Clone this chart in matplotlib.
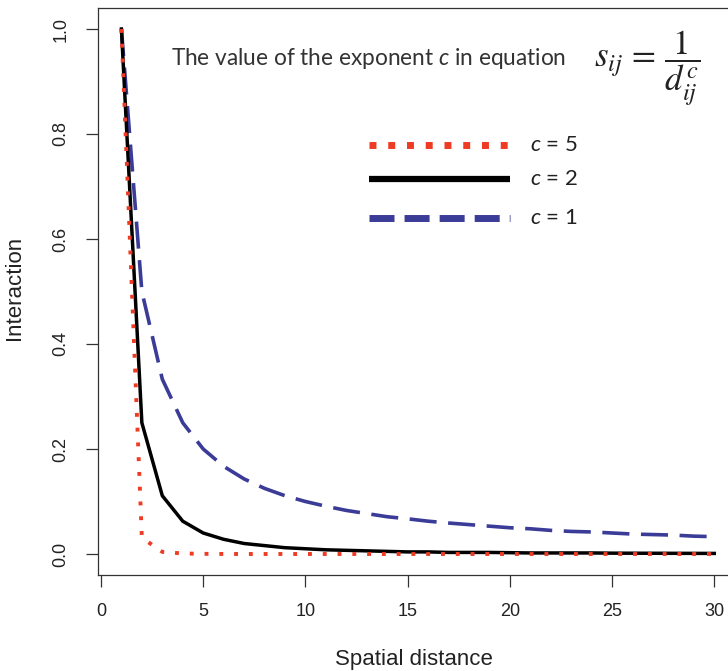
import matplotlib
matplotlib.use("Agg")
import matplotlib.pyplot as plt
from matplotlib.lines import Line2D

plt.rcParams["mathtext.fontset"] = "custom"
plt.rcParams["mathtext.it"] = "Lato:italic"
plt.rcParams["mathtext.rm"] = "Lato"

# ---- data ----
distance = list(range(1, 31))
interaction_c1 = [1.0, 0.5, 0.333, 0.25, 0.2, 0.167, 0.143, 0.125, 0.111, 0.1,
                  0.091, 0.083, 0.077, 0.071, 0.067, 0.0625, 0.059, 0.056, 0.053, 0.05,
                  0.048, 0.045, 0.043, 0.042, 0.04, 0.038, 0.037, 0.036, 0.034, 0.033]
interaction_c2 = [1.0, 0.25, 0.111, 0.0625, 0.04, 0.028, 0.02, 0.016, 0.012, 0.01,
                  0.008, 0.007, 0.006, 0.005, 0.004, 0.004, 0.003, 0.003, 0.003, 0.0025,
                  0.002, 0.002, 0.002, 0.002, 0.0016, 0.0015, 0.0014, 0.0013, 0.0012, 0.0011]
interaction_c5 = [1.0, 0.031, 0.004, 0.001, 0.0003, 0.0001, 0.0, 0.0, 0.0, 0.0,
                  0.0, 0.0, 0.0, 0.0, 0.0, 0.0, 0.0, 0.0, 0.0, 0.0,
                  0.0, 0.0, 0.0, 0.0, 0.0, 0.0, 0.0, 0.0, 0.0, 0.0]
x_ticks = [0, 5, 10, 15, 20, 25, 30]
y_ticks = [0.0, 0.2, 0.4, 0.6, 0.8, 1.0]
y_tick_labels = ["0.0", "0.2", "0.4", "0.6", "0.8", "1.0"]
legend_labels = ["$c$ = 5", "$c$ = 2", "$c$ = 1"]

RED = "#ef3b24"
BLUE = "#3b3b98"
BLACK = "#000000"

W, H = 728, 671
fig = plt.figure(figsize=(W / 100, H / 100), dpi=100)

def fx(px):
    return px / W

def fy(py):
    return 1 - py / H

ax = fig.add_axes([fx(97.7), fy(575), (738 - 97.7) / W, (575 - 8) / H])

ax.plot(distance, interaction_c1, color=BLUE, lw=2.6, linestyle=(0, (7.5, 3.2)),
        dash_capstyle="butt")
ax.plot(distance, interaction_c2, color=BLACK, lw=2.5, solid_joinstyle="round")
ax.plot(distance, interaction_c5, color=RED, lw=2.8, linestyle=(0, (1.0, 2.8)),
        dash_capstyle="butt")

ax.set_xlim(-0.16, 31.16)
ax.set_ylim(-0.04, 1.04)
ax.set_xticks(x_ticks)
ax.set_yticks(y_ticks)
ax.set_yticklabels(y_tick_labels)

for s in ["left", "bottom", "top", "right"]:
    ax.spines[s].set_color("#333333")
    ax.spines[s].set_linewidth(0.9)

ax.tick_params(axis="both", direction="out", length=8.5, width=0.9, color="#333333",
               labelsize=13, labelcolor="#222222", pad=12)
ax.tick_params(axis="y", labelrotation=90)
for lab in ax.get_yticklabels():
    lab.set_va("center")
for lab in ax.get_xticklabels() + ax.get_yticklabels():
    lab.set_fontfamily("Liberation Sans")

fig.text(fx(414), fy(660), "Spatial distance", ha="center", va="center",
         fontsize=16, family="Liberation Sans", color="#222222")
fig.text(fx(15), fy(288), "Interaction", ha="center", va="center", rotation=90,
         fontsize=16, family="Liberation Sans", color="#222222")

# annotation
fig.text(fx(171), fy(65), "The value of the exponent $c$ in equation",
         ha="left", va="baseline", fontsize=16.3, family="Lato", color="#333333")
fig.text(fx(594), fy(67), r"$s_{ij}\,=\,\dfrac{1}{d_{ij}^{c}}$", ha="left", va="baseline",
         fontsize=25, color="#222222", math_fontfamily="stix")

# legend
leg_rows = [(145, RED, 5.0, (0, (1.0, 1.7))), (179, BLACK, 4.5, "-"), (218, BLUE, 5.0, (0, (3.6, 1.45)))]
for (py, col, lw, ls), lab in zip(leg_rows, legend_labels):
    fig.add_artist(Line2D([fx(369), fx(510)], [fy(py), fy(py)], color=col, lw=lw,
                          linestyle=ls, dash_capstyle="butt", solid_capstyle="butt"))
    fig.text(fx(530), fy(py), lab, ha="left", va="center", fontsize=16, family="Lato",
             color="#222222")

fig.savefig("out.png", dpi=100)
